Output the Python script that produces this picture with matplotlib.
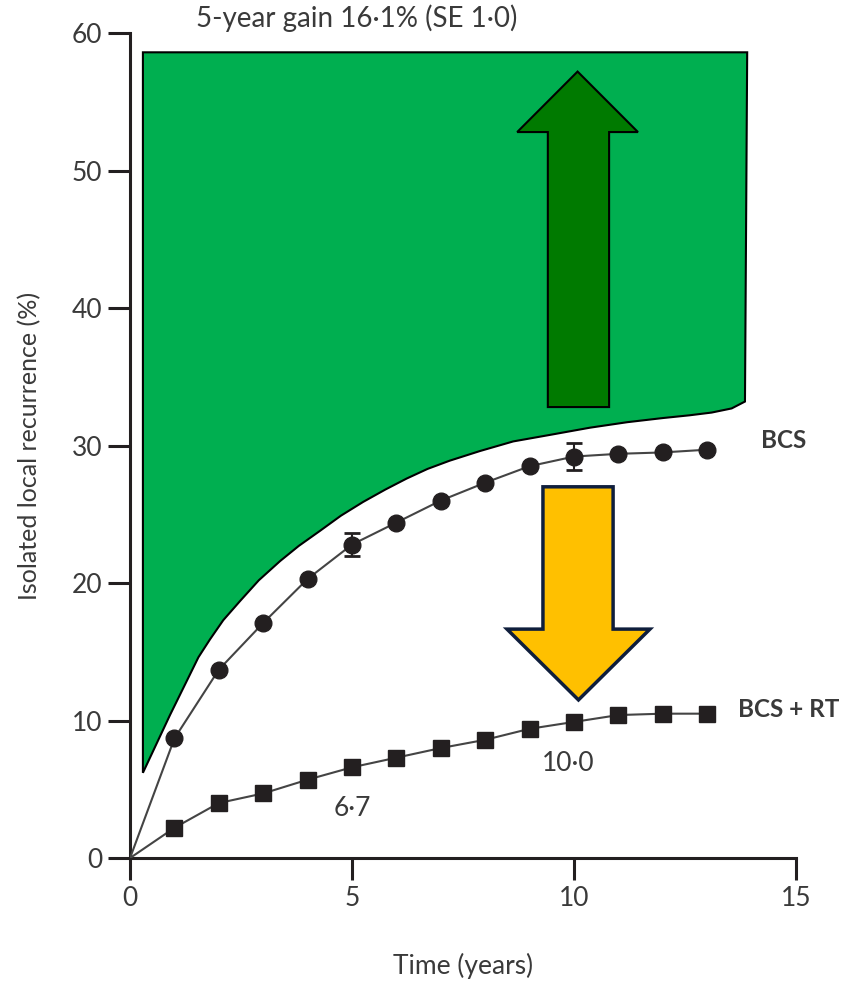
import matplotlib
matplotlib.use("Agg")
import matplotlib.pyplot as plt
from matplotlib.patches import Polygon

plt.rcParams['font.family'] = ['Lato', 'DejaVu Sans']

# --- datos ---
years = [0, 1, 2, 3, 4, 5, 6, 7, 8, 9, 10, 11, 12, 13]
bcs = [0, 8.7, 13.7, 17.1, 20.3, 22.8, 24.4, 26.0, 27.3, 28.5, 29.2, 29.4, 29.5, 29.7]
bcs_rt = [0, 2.2, 4.0, 4.7, 5.7, 6.6, 7.3, 8.0, 8.6, 9.4, 9.9, 10.4, 10.5, 10.5]
err_x = [5, 10]
err_y = [22.8, 29.2]
err_se = [0.85, 0.95]

# zona verde (ganancia)
gain_x = [0.29, 0.9, 1.54, 1.8, 2.1, 2.48, 2.9, 3.38, 3.8, 4.28, 4.75, 5.25, 5.75,
          6.23, 6.7, 7.2, 7.88, 8.63, 9.5, 10.36, 11.2, 12.0, 12.6, 13.1, 13.55,
          13.85, 13.9, 0.29]
gain_y = [6.2, 10.4, 14.6, 15.9, 17.3, 18.7, 20.2, 21.6, 22.7, 23.8, 24.9, 25.9, 26.8,
          27.6, 28.3, 28.9, 29.6, 30.3, 30.8, 31.3, 31.7, 32.0, 32.2, 32.4, 32.7,
          33.2, 58.6, 58.6]

# flechas
up_arrow_x = [9.41, 9.41, 8.72, 10.08, 11.44, 10.79, 10.79]
up_arrow_y = [32.8, 52.8, 52.8, 57.2, 52.8, 52.8, 32.8]
down_arrow_x = [9.30, 9.30, 8.49, 10.10, 11.71, 10.88, 10.88]
down_arrow_y = [27.0, 16.65, 16.65, 11.5, 16.65, 16.65, 27.0]

TXT = '#3a3a3a'

fig = plt.figure(figsize=(8.51, 9.84), dpi=100)
ax = fig.add_axes([0.1528, 0.128, 0.7826, 0.8384])

ax.add_patch(Polygon(list(zip(gain_x, gain_y)), closed=True, facecolor='#00AF50',
                     edgecolor='black', lw=1.5, zorder=1))
ax.add_patch(Polygon(list(zip(up_arrow_x, up_arrow_y)), closed=True, facecolor='#007A00',
                     edgecolor='black', lw=1.5, zorder=2))
ax.add_patch(Polygon(list(zip(down_arrow_x, down_arrow_y)), closed=True, facecolor='#FFC000',
                     edgecolor='#0F1E3C', lw=2.5, zorder=2))

ax.plot(years, bcs, color='#444444', lw=1.5, marker='o', ms=12, mfc='#231f20',
        mec='#231f20', markevery=list(range(1, len(years))), zorder=4)
ax.plot(years, bcs_rt, color='#444444', lw=1.5, marker='s', ms=11, mfc='#231f20',
        mec='#231f20', markevery=list(range(1, len(years))), zorder=4)
ax.errorbar(err_x, err_y, yerr=err_se, fmt='none', ecolor='#231f20', elinewidth=1.5,
            capsize=6, capthick=2, zorder=5)

ax.text(5.1, 61.1, '5-year gain 16·1% (SE 1·0)', ha='center', va='center',
        fontsize=20, color=TXT, clip_on=False)
ax.text(14.2, 30.4, 'BCS', ha='left', va='center', fontsize=17.5, color=TXT,
        fontweight='bold', clip_on=False)
ax.text(13.7, 10.8, 'BCS + RT', ha='left', va='center', fontsize=17.5, color=TXT,
        fontweight='bold', clip_on=False)
ax.text(5.0, 3.6, '6·7', ha='center', va='center', fontsize=19, color=TXT)
ax.text(9.86, 6.9, '10·0', ha='center', va='center', fontsize=19, color=TXT)

ax.set_xlim(0, 15)
ax.set_ylim(0, 60)
ax.set_xticks([0, 5, 10, 15])
ax.set_yticks([0, 10, 20, 30, 40, 50, 60])
for s in ['top', 'right']:
    ax.spines[s].set_visible(False)
for s in ['left', 'bottom']:
    ax.spines[s].set_linewidth(2.2)
    ax.spines[s].set_color('#231f20')
ax.tick_params(length=16, width=2.2, color='#231f20', labelsize=19,
               labelcolor=TXT, pad=4)
ax.set_xlabel('Time (years)', fontsize=19, color=TXT, labelpad=30)
ax.set_ylabel('Isolated local recurrence (%)', fontsize=18, color=TXT, labelpad=22)

fig.savefig('out.png', dpi=100)
